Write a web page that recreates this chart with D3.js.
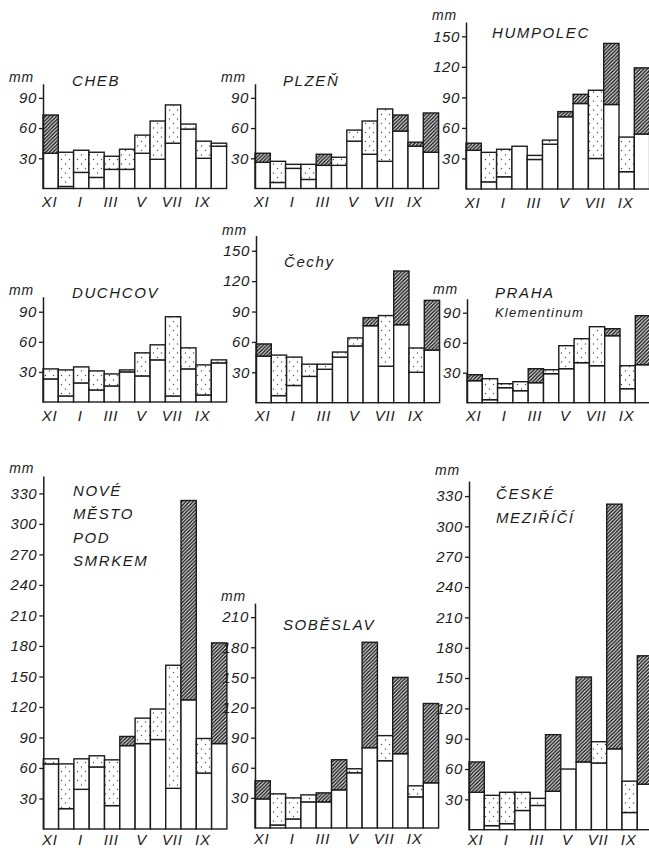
<!DOCTYPE html>
<html>
<head>
<meta charset="utf-8">
<script src="https://cdn.jsdelivr.net/npm/d3@7"></script>
<style>
  html, body { margin: 0; padding: 0; background: #fff; }
  svg { display: block; }
  text { font-family: "Liberation Sans", Arial, sans-serif; font-style: italic; fill: #1c1c1c; }
</style>
</head>
<body>
<svg id="chart" width="649" height="848"></svg>
<script>
// Hydrological year, November to October
const months = ["XI", "XII", "I", "II", "III", "IV", "V", "VI", "VII", "VIII", "IX", "X"];
const labelledMonths = ["XI", "I", "III", "V", "VII", "IX"];

// Monthly precipitation in mm: long-term normal and the observed year
const chebNormal = [35, 36, 38, 36, 32, 39, 53, 67, 83, 64, 47, 45];
const chebYear   = [73,  2, 16, 11, 19, 19, 35, 29, 45, 59, 30, 42];

const plzenNormal = [26, 27, 24, 24, 23, 31, 58, 67, 79, 57, 42, 36];
const plzenYear   = [35,  6, 20,  9, 34, 23, 47, 34, 27, 73, 46, 75];

const humpolecNormal = [38, 36, 39, 42, 33, 48, 71, 84, 97,  83, 51,  54];
const humpolecYear   = [45,  7, 12, 42, 29, 44, 76, 93, 30, 143, 17, 119];

const duchcovNormal = [33, 32, 35, 31, 28, 32, 49, 57, 85, 54, 37, 42];
const duchcovYear   = [23,  6, 19, 12, 16, 30, 26, 42,  6, 33,  7, 39];

const cechyNormal = [46, 47, 45, 38, 38, 50, 64, 76, 86,  77, 54,  52];
const cechyYear   = [58,  7, 17, 26, 33, 45, 56, 84, 36, 130, 30, 101];

const prahaNormal = [22, 24, 19, 21, 20, 33, 57, 64, 76, 67, 37, 38];
const prahaYear   = [28,  3, 15, 12, 34, 29, 34, 40, 37, 74, 14, 87];

const nmpsNormal = [69, 64, 69, 72, 68, 82, 109, 118, 161, 127, 89,  84];
const nmpsYear   = [64, 20, 39, 61, 23, 91,  84,  88,  40, 323, 55, 183];

const sobeslavNormal = [29, 34, 30, 33, 26, 38, 59,  80, 92,  74, 42,  45];
const sobeslavYear   = [47,  3,  9, 26, 35, 68, 55, 185, 67, 150, 31, 124];

const cmNormal = [37, 34, 37, 37, 31, 38, 60,  67, 87,  80, 48,  45];
const cmYear   = [67,  4,  6, 19, 24, 94, 60, 151, 66, 322, 17, 172];

// Y tick sets
const ticks90  = [30, 60, 90];
const ticks150 = [30, 60, 90, 120, 150];
const ticks210 = [30, 60, 90, 120, 150, 180, 210];
const ticks330 = [30, 60, 90, 120, 150, 180, 210, 240, 270, 300, 330];

// Panel placement on the sheet
const panels = [
  { normal: chebNormal, year: chebYear, x: 43, base: 188.5, k: 1.007, top: 104, ticks: ticks90,
    mmY: 82, pad: 8, titles: [{ t: "CHEB", x: 72, y: 80 }] },
  { normal: plzenNormal, year: plzenYear, x: 255, base: 188.5, k: 1.007, top: 104, ticks: ticks90,
    mmY: 82, pad: 8, titles: [{ t: "PLZEŇ", x: 283, y: 80 }] },
  { normal: humpolecNormal, year: humpolecYear, x: 466, base: 189, k: 1.018, top: 164, ticks: ticks150,
    mmY: 20, pad: 8, titles: [{ t: "HUMPOLEC", x: 492, y: 32 }] },
  { normal: duchcovNormal, year: duchcovYear, x: 43, base: 402, k: 1.003, top: 105, ticks: ticks90,
    mmY: 295, pad: 8, titles: [{ t: "DUCHCOV", x: 72, y: 292 }] },
  { normal: cechyNormal, year: cechyYear, x: 256, base: 402.7, k: 1.013, top: 165, ticks: ticks150,
    mmY: 235, pad: 8, titles: [{ t: "Čechy", x: 284, y: 261 }] },
  { normal: prahaNormal, year: prahaYear, x: 467, base: 402.7, k: 1.0, top: 104, ticks: ticks90,
    mmY: 294, pad: 8, titles: [{ t: "PRAHA", x: 495, y: 292 }, { t: "Klementinum", x: 495, y: 312, small: true }] },
  { normal: nmpsNormal, year: nmpsYear, x: 43.3, base: 829, k: 1.017, top: 347, ticks: ticks330,
    mmY: 473, pad: 5, titles: [{ t: "NOVÉ", x: 73, y: 490 }, { t: "MĚSTO", x: 73, y: 513.5 },
                               { t: "POD", x: 73, y: 537 }, { t: "SMRKEM", x: 73, y: 560 }] },
  { normal: sobeslavNormal, year: sobeslavYear, x: 255, base: 828, k: 1.004, top: 224, ticks: ticks210,
    mmY: 601, pad: 5, titles: [{ t: "SOBĚSLAV", x: 283, y: 624 }] },
  { normal: cmNormal, year: cmYear, x: 469, base: 829.7, k: 1.011, top: 345, ticks: ticks330,
    mmY: 475, pad: 5, titles: [{ t: "ČESKÉ", x: 496, y: 493 }, { t: "MEZIŘÍČÍ", x: 496, y: 517 }] }
];

const BAR_W = 15.3;
const INK = "#1c1c1c";

const svg = d3.select("#chart");
const defs = svg.append("defs");

// surplus: dense diagonal hatching
const hatch = defs.append("pattern")
  .attr("id", "hatch").attr("patternUnits", "userSpaceOnUse")
  .attr("width", 3.6).attr("height", 3.6);
hatch.append("rect").attr("width", 3.6).attr("height", 3.6).attr("fill", "#fff");
hatch.append("path")
  .attr("d", "M-0.9,0.9 L0.9,-0.9 M0,3.6 L3.6,0 M2.7,4.5 L4.5,2.7")
  .attr("stroke", "#1e1e1e").attr("stroke-width", 1.55);

// deficit: sparse stipple
const dots = defs.append("pattern")
  .attr("id", "dots").attr("patternUnits", "userSpaceOnUse")
  .attr("width", 8).attr("height", 9);
dots.append("rect").attr("width", 8).attr("height", 9).attr("fill", "#fff");
dots.append("circle").attr("cx", 1.5).attr("cy", 2).attr("r", 0.7).attr("fill", "#4a4a4a");
dots.append("circle").attr("cx", 5.5).attr("cy", 6.5).attr("r", 0.7).attr("fill", "#4a4a4a");

panels.forEach(p => {
  const g = svg.append("g");
  const y = d3.scaleLinear().domain([0, p.top]).range([p.base, p.base - p.top * p.k]);
  const x = d3.scaleBand().domain(months).range([p.x, p.x + BAR_W * months.length]).padding(0);

  // white part up to the smaller value, stipple for a deficit, hatching for a surplus
  const segs = [];
  months.forEach((m, i) => {
    const n = p.normal[i], a = p.year[i];
    segs.push({ m, from: 0, to: Math.min(n, a), fill: "#fff" });
    if (a < n) segs.push({ m, from: a, to: n, fill: "url(#dots)" });
    if (a > n) segs.push({ m, from: n, to: a, fill: "url(#hatch)" });
  });

  g.selectAll("rect.seg").data(segs).join("rect")
    .attr("class", "seg")
    .attr("x", d => x(d.m))
    .attr("width", x.bandwidth())
    .attr("y", d => y(d.to))
    .attr("height", d => y(d.from) - y(d.to))
    .attr("fill", d => d.fill)
    .attr("stroke", INK)
    .attr("stroke-width", 1.4);

  // y axis
  const ya = g.append("g")
    .attr("transform", `translate(${p.x},0)`)
    .call(d3.axisLeft(y).tickValues(p.ticks).tickSize(4).tickSizeOuter(0).tickPadding(2));
  ya.select(".domain").attr("stroke", INK).attr("stroke-width", 1.5);
  ya.selectAll(".tick line").attr("stroke", INK).attr("stroke-width", 1.3);
  ya.selectAll(".tick text")
    .attr("font-family", "Liberation Sans, Arial, sans-serif")
    .attr("font-style", "italic")
    .attr("font-size", 15).attr("letter-spacing", 0.6)
    .attr("fill", INK);

  // month labels
  const xa = g.append("g")
    .attr("transform", `translate(0,${p.base})`)
    .call(d3.axisBottom(x).tickValues(labelledMonths).tickSize(0).tickPadding(p.pad));
  xa.select(".domain").remove();
  xa.selectAll(".tick text")
    .attr("font-family", "Liberation Sans, Arial, sans-serif")
    .attr("font-style", "italic")
    .attr("font-size", 15).attr("letter-spacing", 0.8)
    .attr("dx", -1)
    .attr("fill", INK);

  // unit
  g.append("text")
    .attr("x", p.x - 9).attr("y", p.mmY)
    .attr("text-anchor", "end")
    .attr("font-size", 14).attr("letter-spacing", 0.8)
    .text("mm");

  // station name
  p.titles.forEach(t => {
    g.append("text")
      .attr("x", t.x).attr("y", t.y)
      .attr("dominant-baseline", "central")
      .attr("font-size", t.small ? 13 : 15)
      .attr("letter-spacing", t.small ? 1.2 : 1.6)
      .text(t.t);
  });
});
</script>
</body>
</html>
